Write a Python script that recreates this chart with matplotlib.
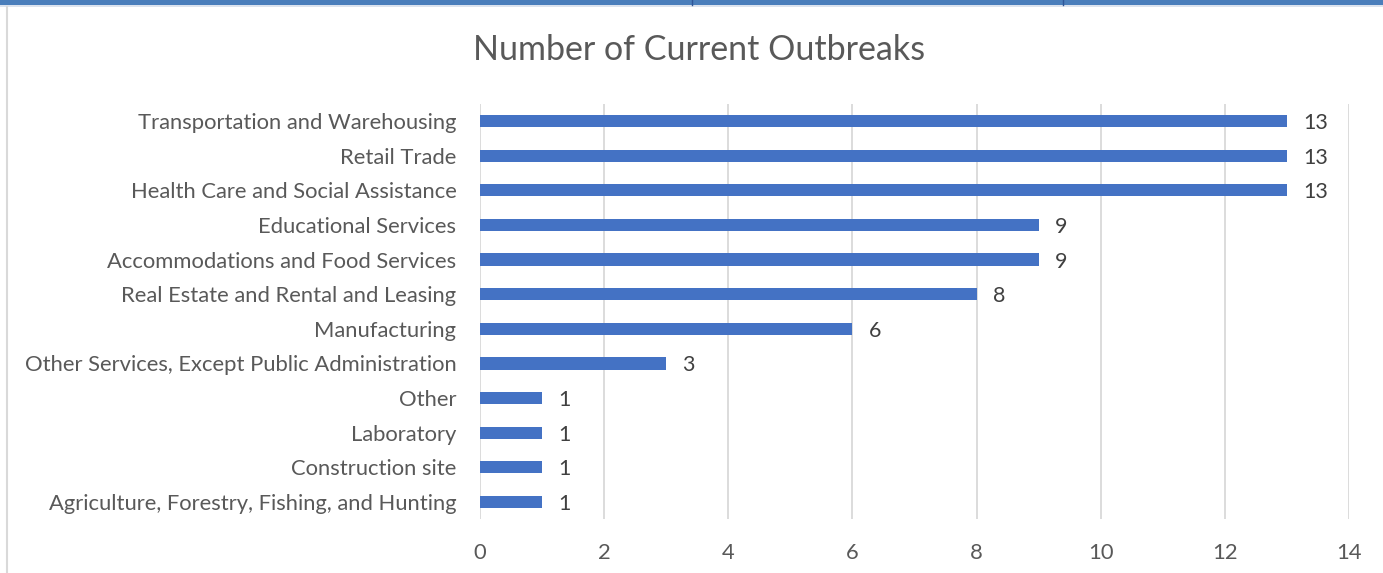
import matplotlib
matplotlib.use("Agg")
import matplotlib.pyplot as plt
from matplotlib.patches import Rectangle
from matplotlib.lines import Line2D

categories = [
    "Transportation and Warehousing",
    "Retail Trade",
    "Health Care and Social Assistance",
    "Educational Services",
    "Accommodations and Food Services",
    "Real Estate and Rental and Leasing",
    "Manufacturing",
    "Other Services, Except Public Administration",
    "Other",
    "Laboratory",
    "Construction site",
    "Agriculture, Forestry, Fishing, and Hunting",
]
values = [13, 13, 13, 9, 9, 8, 6, 3, 1, 1, 1, 1]
xticks = [0, 2, 4, 6, 8, 10, 12, 14]
title = "Number of Current Outbreaks"

plt.rcParams['font.family'] = ['Lato', 'DejaVu Sans']
W, H = 1383, 573
fig = plt.figure(figsize=(W / 100, H / 100), dpi=100)
fig.patch.set_facecolor("white")

# top band and left border (page context)
fig.add_artist(Rectangle((0, 1 - 5 / H), 1, 5 / H, transform=fig.transFigure,
                         facecolor="#4A7EBB", edgecolor="none"))
fig.add_artist(Rectangle((0, 1 - 7 / H), 1, 2 / H, transform=fig.transFigure,
                         facecolor="#DCE3EE", edgecolor="none"))
for xp in (692, 1063):
    fig.add_artist(Line2D([xp / W, xp / W], [1 - 5 / H, 1], transform=fig.transFigure,
                          color="#2F5597", lw=1))
fig.add_artist(Line2D([6.5 / W, 6.5 / W], [0, 1 - 7 / H], transform=fig.transFigure,
                      color="#D9D9D9", lw=1.5))

ax = fig.add_axes([480 / W, 1 - 519.3 / H, (1349 - 480) / W, (519.3 - 103.7) / H])
ypos = list(range(len(categories)))
ax.barh(ypos, values, height=0.35, color="#4472C4", zorder=3)
ax.set_ylim(len(categories) - 0.5, -0.5)
ax.set_xlim(0, 14)
ax.set_xticks(xticks)
ax.set_xticklabels([str(t) for t in xticks])
ax.set_yticks(ypos)
ax.set_yticklabels(categories)
ax.grid(axis="x", color="#D9D9D9", lw=1.3, zorder=0)
for s in ax.spines.values():
    s.set_visible(False)
ax.tick_params(axis="both", length=0, labelsize=15.8, labelcolor="#595959")
ax.tick_params(axis="y", pad=17)
ax.tick_params(axis="x", pad=17)

for y, v in zip(ypos, values):
    ax.text(v + 0.26, y, str(v), va="center_baseline", ha="left", fontsize=15.5, color="#404040")

fig.text(699 / W, 1 - 50 / H, title, ha="center", va="center", fontsize=24.5, color="#595959")

fig.savefig("out.png", dpi=100)
